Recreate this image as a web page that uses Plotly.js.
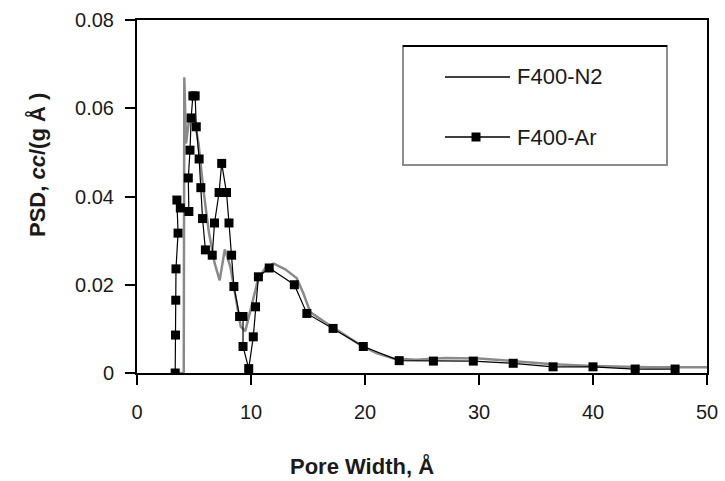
<!DOCTYPE html>
<html>
<head>
<meta charset="utf-8">
<script src="https://cdn.plot.ly/plotly-3.0.1.min.js"></script>
<style>html,body{margin:0;padding:0;background:#fff;}#chart{width:725px;height:481px;}</style>
</head>
<body>
<div id="chart"></div>
<script>
// F400-N2 (gray curve)
var n2Width = [3.3, 4.1, 4.15, 4.3, 4.6, 5.0, 5.4, 5.8, 6.3, 6.8, 7.25, 7.7, 8.2, 8.7, 9.1, 9.5, 10.0, 10.6, 11.3, 12.0, 13.0, 14.0, 14.6, 15.2, 16.5, 18.0, 19.5, 21.0, 22.5, 24.5, 27.0, 30.0, 33.0, 36.5, 40.0, 45.0, 50.0];
var n2PSD   = [0, 0, 0.067, 0.052, 0.058, 0.058, 0.052, 0.042, 0.032, 0.025, 0.021, 0.028, 0.024, 0.016, 0.0105, 0.0095, 0.015, 0.021, 0.024, 0.0248, 0.0235, 0.0215, 0.018, 0.0138, 0.0115, 0.009, 0.0065, 0.0045, 0.0033, 0.003, 0.0034, 0.0033, 0.0027, 0.002, 0.0016, 0.0013, 0.0013];

// F400-Ar (black line with square markers)
var arWidth = [3.35, 3.38, 3.4, 3.42, 3.6, 3.5, 3.8, 4.55, 4.5, 4.65, 4.75, 4.9, 5.1, 5.2, 5.45, 5.6, 5.75, 6.0, 6.6, 6.8, 7.2, 7.43, 7.85, 8.07, 8.3, 8.5, 9.0, 9.3, 9.3, 9.8, 10.2, 10.4, 10.65, 11.6, 13.8, 14.9, 17.2, 19.85, 23.0, 26.0, 29.5, 33.0, 36.5, 40.0, 43.7, 47.2];
var arPSD   = [0, 0.0086, 0.0165, 0.0236, 0.0317, 0.0392, 0.0374, 0.0366, 0.0442, 0.0505, 0.0578, 0.0628, 0.0628, 0.0558, 0.0485, 0.042, 0.035, 0.0279, 0.0267, 0.034, 0.0409, 0.0475, 0.0409, 0.034, 0.0267, 0.0196, 0.0128, 0.0128, 0.006, 0.001, 0.0082, 0.015, 0.0218, 0.0238, 0.02, 0.0135, 0.0101, 0.006, 0.0028, 0.0027, 0.0027, 0.0022, 0.0014, 0.0014, 0.0009, 0.0009];

var xTicks = [0, 10, 20, 30, 40, 50];
var yTicks = [0, 0.02, 0.04, 0.06, 0.08];
var yTickText = ['0', '0.02', '0.04', '0.06', '0.08'];

var FONT = 'Liberation Sans, Arial, sans-serif';

var traces = [
  {x: n2Width, y: n2PSD, name: 'F400-N2', mode: 'lines', type: 'scatter',
   line: {color: '#8a8a8a', width: 2.5}, showlegend: false},
  {x: arWidth, y: arPSD, name: 'F400-Ar', mode: 'lines+markers', type: 'scatter',
   line: {color: '#000', width: 1.2},
   marker: {symbol: 'square', size: 9, color: '#000'}, showlegend: false}
];

// plot area in px: left 137, right 707, top 20, bottom 373
function px2x(p){ return (p - 137) / 570; }
function px2y(p){ return (373 - p) / 353; }

var layout = {
  width: 725, height: 481,
  margin: {l: 137, r: 18, t: 20, b: 108},
  paper_bgcolor: '#fff', plot_bgcolor: '#fff',
  font: {family: FONT, color: '#1a1a1a'},
  showlegend: false,
  xaxis: {
    range: [0, 50], tickvals: xTicks, ticktext: xTicks.map(String),
    showgrid: false, zeroline: false,
    showline: true, linecolor: '#000', linewidth: 2, mirror: true,
    ticks: 'outside', ticklen: 10, tickwidth: 2, tickcolor: '#000',
    ticklabelstandoff: 10,
    tickfont: {family: FONT, size: 20, color: '#1a1a1a'}
  },
  yaxis: {
    range: [0, 0.08], tickvals: yTicks, ticktext: yTickText,
    showgrid: false, zeroline: false,
    showline: true, linecolor: '#000', linewidth: 2, mirror: true,
    ticks: 'outside', ticklen: 10, tickwidth: 2, tickcolor: '#000',
    ticklabelstandoff: 7,
    tickfont: {family: FONT, size: 20, color: '#1a1a1a'}
  },
  shapes: [
    {type: 'rect', xref: 'paper', yref: 'paper', x0: px2x(403), x1: px2x(667), y0: px2y(165), y1: px2y(46),
     line: {color: '#8c8c8c', width: 2}, fillcolor: 'rgba(0,0,0,0)'},
    {type: 'line', xref: 'paper', yref: 'paper', x0: px2x(403), x1: px2x(667), y0: px2y(46), y1: px2y(46),
     line: {color: '#000', width: 2}},
    {type: 'line', xref: 'paper', yref: 'paper', x0: px2x(445), x1: px2x(510), y0: px2y(77), y1: px2y(77),
     line: {color: '#000', width: 1.5}},
    {type: 'line', xref: 'paper', yref: 'paper', x0: px2x(445), x1: px2x(510), y0: px2y(137), y1: px2y(137),
     line: {color: '#000', width: 1.5}},
    {type: 'rect', xref: 'paper', yref: 'paper', x0: px2x(471.5), x1: px2x(480.5), y0: px2y(141.5), y1: px2y(132.5),
     line: {color: '#000', width: 0}, fillcolor: '#000'}
  ],
  annotations: [
    {text: 'F400-N2', xref: 'paper', yref: 'paper', x: px2x(515), y: px2y(77), xanchor: 'left', yanchor: 'middle',
     showarrow: false, font: {family: FONT, size: 22, color: '#1a1a1a'}},
    {text: 'F400-Ar', xref: 'paper', yref: 'paper', x: px2x(515), y: px2y(137), xanchor: 'left', yanchor: 'middle',
     showarrow: false, font: {family: FONT, size: 22, color: '#1a1a1a'}},
    {text: '<b>Pore Width, Å</b>', xref: 'paper', yref: 'paper', x: px2x(362), y: px2y(466), xanchor: 'center', yanchor: 'middle',
     showarrow: false, font: {family: FONT, size: 22, color: '#1a1a1a'}},
    {text: '<b>PSD, <i>cc</i>/(g Å )</b>', xref: 'paper', yref: 'paper', x: px2x(37), y: px2y(165), xanchor: 'center', yanchor: 'middle',
     textangle: -90, showarrow: false, font: {family: FONT, size: 22, color: '#1a1a1a'}}
  ]
};

Plotly.newPlot('chart', traces, layout, {displayModeBar: false, staticPlot: true});
</script>
</body>
</html>
